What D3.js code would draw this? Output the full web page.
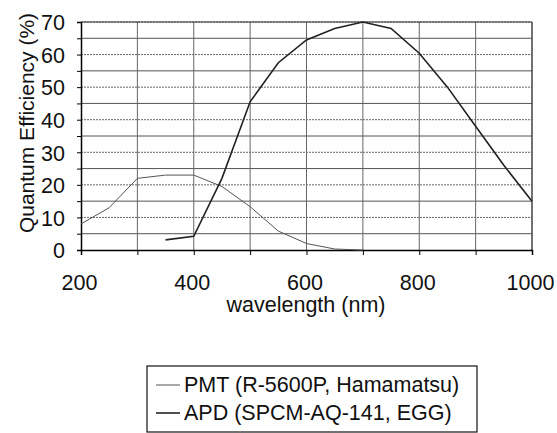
<!DOCTYPE html>
<html><head><meta charset="utf-8">
<script src="https://cdn.jsdelivr.net/npm/d3@7"></script>
<style>body{margin:0;background:#fff}svg{display:block}text{font-family:"Liberation Sans",Arial,sans-serif;fill:#111}</style>
</head><body><svg id="c" width="557" height="433"></svg>
<script>
const pmtWavelength = [200,250,300,350,400,450,500,550,600,650,700];
const pmtQE =         [8,  13, 22, 23, 23, 19.5,13.3,5.8,2, 0.3,0];
const apdWavelength = [350,400,450,500,550,600,650,700,750,800,850,900,950,1000];
const apdQE =         [3.1,4.2,22, 45.5,57.5,64.5,68,70,68,60.4,50,38,26,15];
const xTicks = [200,400,600,800,1000];
const yTicks = [0,10,20,30,40,50,60,70];
const legendLabels = ["PMT (R-5600P, Hamamatsu)","APD (SPCM-AQ-141, EGG)"];
const xTitle = "wavelength (nm)";
const yTitle = "Quantum Efficiency (%)";

const svg = d3.select("#c");
const x = d3.scaleLinear().domain([200,1000]).range([81,532]);
const y = d3.scaleLinear().domain([0,70]).range([250,22]);

// gridlines
const g = svg.append("g");
g.selectAll("line.h").data(d3.range(5,71,5)).join("line")
  .attr("x1",x(200)).attr("x2",x(1000)).attr("y1",d=>y(d)).attr("y2",d=>y(d))
  .attr("stroke",d=>d%10===0?"#666":"#555").attr("stroke-width",1)
  .attr("stroke-dasharray",d=>d%10===0?"2,1":null);
g.selectAll("line.v").data(d3.range(300,1001,100)).join("line")
  .attr("y1",y(0)).attr("y2",y(70)).attr("x1",d=>x(d)).attr("x2",d=>x(d))
  .attr("stroke","#666").attr("stroke-width",1);

// axes
const xAxis = d3.axisBottom(x).tickValues(d3.range(200,1001,100)).tickSize(5).tickFormat(d=>xTicks.includes(d)?d:"");
const gx = svg.append("g").attr("transform",`translate(0,${y(0)})`).call(xAxis);
gx.selectAll("text").attr("font-size","21.5px").attr("dy","0").attr("y",40).attr("dx","-2");
gx.select(".domain").attr("stroke","#000").attr("stroke-width",1.5);
gx.selectAll(".tick line").attr("stroke","#000");

const yAxis = d3.axisLeft(y).tickValues(d3.range(0,71,5)).tickSize(4).tickFormat(d=>yTicks.includes(d)?d:"");
const gy = svg.append("g").attr("transform",`translate(${x(200)},0)`).call(yAxis);
gy.selectAll("text").attr("font-size","21.5px").attr("x",-16).attr("dy","0.36em");
gy.select(".domain").attr("stroke","#000").attr("stroke-width",1.5);
gy.selectAll(".tick line").attr("stroke","#000");

// frame
svg.append("line").attr("x1",x(200)).attr("x2",x(1000)).attr("y1",y(70)).attr("y2",y(70)).attr("stroke","#333");
svg.append("line").attr("x1",x(1000)).attr("x2",x(1000)).attr("y1",y(70)).attr("y2",y(0)).attr("stroke","#333");

// series
const line = d3.line().x(d=>x(d[0])).y(d=>y(d[1]));
svg.append("path").datum(d3.zip(pmtWavelength,pmtQE)).attr("d",line)
  .attr("fill","none").attr("stroke","#555").attr("stroke-width",1);
svg.append("path").datum(d3.zip(apdWavelength,apdQE)).attr("d",line)
  .attr("fill","none").attr("stroke","#222").attr("stroke-width",1.6);

// titles
svg.append("text").attr("x",306).attr("y",312).attr("text-anchor","middle").attr("font-size","21.5px").text(xTitle);
svg.append("text").attr("transform","translate(34,123) rotate(-90)").attr("text-anchor","middle").attr("font-size","21px").text(yTitle);

// legend
const lg = svg.append("g");
lg.append("rect").attr("x",147).attr("y",366).attr("width",330).attr("height",66)
  .attr("fill","#fff").attr("stroke","#111").attr("stroke-width",1.2);
legendLabels.forEach((t,i)=>{
  const by = 392 + i*28;
  lg.append("line").attr("x1",156).attr("x2",180).attr("y1",by-7).attr("y2",by-7)
    .attr("stroke",i===0?"#555":"#222").attr("stroke-width",i===0?1:1.6);
  lg.append("text").attr("x",184).attr("y",by).attr("font-size","21.5px").text(t);
});
</script></body></html>
